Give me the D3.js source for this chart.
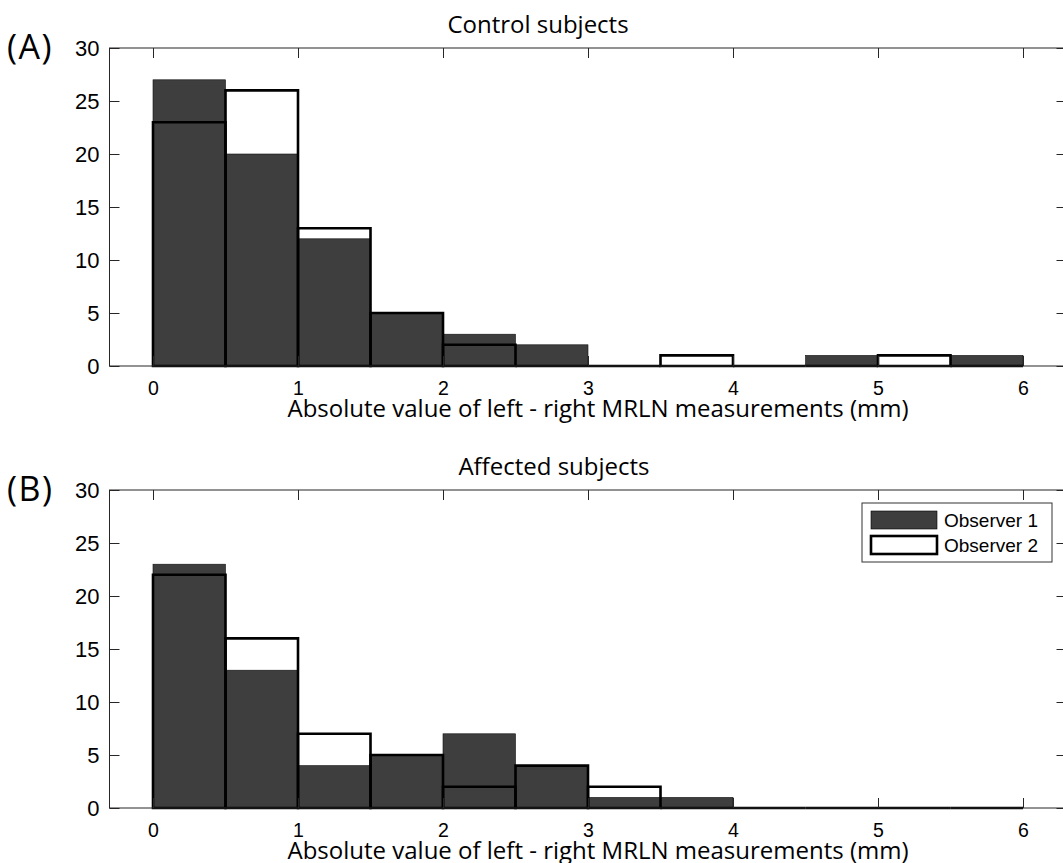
<!DOCTYPE html>
<html>
<head>
<meta charset="utf-8">
<script src="https://cdn.jsdelivr.net/npm/d3@7"></script>
<style>
  body { margin: 0; background: #fff; }
  svg { display: block; }
</style>
</head>
<body>
<script>
// bin edges (mm), width 0.5
const binStarts = [0, 0.5, 1, 1.5, 2, 2.5, 3, 3.5, 4, 4.5, 5, 5.5];
const binWidth = 0.5;

// panel A: control subjects
const controlObs1 = [27, 20, 12, 5, 3, 2, 0, 0, 0, 1, 0, 1];
const controlObs2 = [23, 26, 13, 5, 2, 0, 0, 1, 0, 0, 1, 0];

// panel B: affected subjects
const affectedObs1 = [23, 13, 4, 5, 7, 4, 1, 1, 0, 0, 0, 0];
const affectedObs2 = [22, 16, 7, 5, 2, 4, 2, 0, 0, 0, 0, 0];

const xTicks = [0, 1, 2, 3, 4, 5, 6];
const yTicks = [0, 5, 10, 15, 20, 25, 30];
const legendLabels = ['Observer 1', 'Observer 2'];

const W = 1063, H = 863;
const svg = d3.select('body').append('svg')
  .attr('width', W)
  .attr('height', H);

const x = d3.scaleLinear().domain([-0.3, 6.3]).range([109.5, 1066.5]);

const tickFont = '"Liberation Sans", Arial, sans-serif';
const titleFont = '"Open Sans", "Noto Sans", sans-serif';

var drawPanel = function(top, bottom, obs1, obs2, title, titleX, tag, legend) {
  const y = d3.scaleLinear().domain([0, 30]).range([bottom, top]);
  const g = svg.append('g');

  // observer 1 filled bars
  g.selectAll('rect.o1')
    .data(binStarts.map((s, i) => ({ s: s, v: obs1[i] })).filter(d => d.v > 0))
    .enter()
    .append('rect')
    .attr('class', 'o1')
    .attr('x', d => x(d.s))
    .attr('y', d => y(d.v))
    .attr('width', d => x(d.s + binWidth) - x(d.s))
    .attr('height', d => y(0) - y(d.v))
    .style('fill', '#3e3e3e')
    .style('stroke', '#111')
    .style('stroke-width', 0.6);

  // observer 2 outline bars (paths so empty bins still show at the baseline)
  g.selectAll('path.o2')
    .data(binStarts.map((s, i) => ({ s: s, v: obs2[i] })))
    .enter()
    .append('path')
    .attr('class', 'o2')
    .attr('d', d => {
      const x0 = x(d.s), x1 = x(d.s + binWidth), y0 = y(0), y1 = y(d.v);
      return `M${x0},${y0}V${y1}H${x1}V${y0}Z`;
    })
    .style('fill', 'none')
    .style('stroke', '#000')
    .style('stroke-width', 2.6)
    .style('stroke-linejoin', 'miter');

  // box
  g.append('rect')
    .attr('x', x.range()[0])
    .attr('y', top)
    .attr('width', x.range()[1] - x.range()[0])
    .attr('height', bottom - top)
    .style('fill', 'none')
    .style('stroke', '#262626')
    .style('stroke-width', 1);

  // axes with inward ticks
  const tl = 10;
  const xAx = g.append('g').attr('transform', `translate(0,${bottom})`)
    .call(d3.axisBottom(x).tickValues(xTicks).tickFormat(d3.format('d'))
      .tickSizeInner(-tl).tickSizeOuter(0).tickPadding(15))
    .call(a => a.select('.domain').remove());
  g.append('g').attr('transform', `translate(0,${top})`)
    .call(d3.axisTop(x).tickValues(xTicks).tickSizeInner(-tl).tickSizeOuter(0).tickFormat(''))
    .call(a => a.select('.domain').remove());
  const yAx = g.append('g').attr('transform', `translate(${x.range()[0]},0)`)
    .call(d3.axisLeft(y).tickValues(yTicks).tickFormat(d3.format('d'))
      .tickSizeInner(-tl).tickSizeOuter(0).tickPadding(10))
    .call(a => a.select('.domain').remove());
  g.append('g').attr('transform', `translate(${x.range()[1]},0)`)
    .call(d3.axisRight(y).tickValues(yTicks).tickSizeInner(-tl).tickSizeOuter(0).tickFormat(''))
    .call(a => a.select('.domain').remove());

  g.selectAll('.tick line').style('stroke', '#262626');
  g.selectAll('.tick text')
    .style('font-family', tickFont)
    .style('fill', '#000');
  xAx.selectAll('.tick text').style('font-size', '19.5px');
  yAx.selectAll('.tick text').style('font-size', '22px');

  // x label
  g.append('text')
    .attr('x', 598)
    .attr('y', bottom + 51)
    .attr('text-anchor', 'middle')
    .style('font-family', titleFont)
    .style('font-size', '24px')
    .text('Absolute value of left - right MRLN measurements (mm)');

  // title
  g.append('text')
    .attr('x', titleX)
    .attr('y', top - 15)
    .attr('text-anchor', 'middle')
    .style('font-family', titleFont)
    .style('font-size', '24px')
    .text(title);

  // panel tag
  g.append('text')
    .attr('x', 7)
    .attr('y', top + 11)
    .style('font-family', titleFont)
    .style('font-size', '34px')
    .style('letter-spacing', '1.5px')
    .text(tag);

  if (legend) {
    const lg = g.append('g').attr('transform', `translate(862,${top + 13})`);
    lg.append('rect')
      .attr('width', 190).attr('height', 59)
      .style('fill', '#fff').style('stroke', '#333').style('stroke-width', 1);
    legendLabels.forEach((lab, i) => {
      lg.append('rect')
        .attr('x', 9).attr('y', 8 + i * 25)
        .attr('width', 66).attr('height', 18)
        .style('fill', i === 0 ? '#3e3e3e' : '#fff')
        .style('stroke', '#000')
        .style('stroke-width', i === 0 ? 0.6 : 2.6);
      lg.append('text')
        .attr('x', 82).attr('y', 24 + i * 25)
        .style('font-family', tickFont)
        .style('font-size', '19px')
        .text(lab);
    });
  }
};

drawPanel(48, 366, controlObs1, controlObs2, 'Control subjects', 538, '(A)', false);
drawPanel(490, 808, affectedObs1, affectedObs2, 'Affected subjects', 554, '(B)', true);
</script>
</body>
</html>
